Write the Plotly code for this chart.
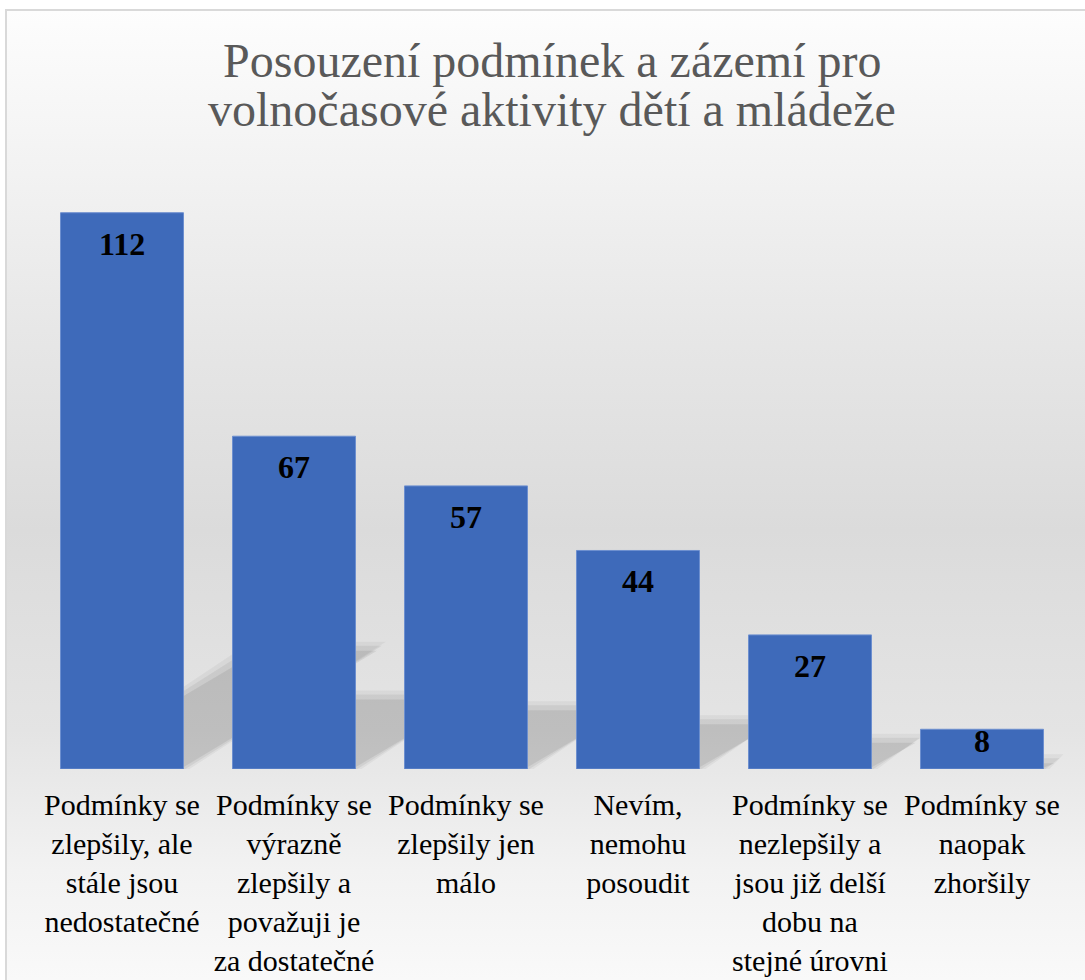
import base64
import plotly.graph_objects as go

categories = [
    "Podmínky se<br>zlepšily, ale<br>stále jsou<br>nedostatečné",
    "Podmínky se<br>výrazně<br>zlepšily a<br>považuji je<br>za dostatečné",
    "Podmínky se<br>zlepšily jen<br>málo",
    "Nevím,<br>nemohu<br>posoudit",
    "Podmínky se<br>nezlepšily a<br>jsou již delší<br>dobu na<br>stejné úrovni",
    "Podmínky se<br>naopak<br>zhoršily",
]
values = [112, 67, 57, 44, 27, 8]
title_lines = ["Posouzení podmínek a zázemí pro", "volnočasové aktivity dětí a mládeže"]

W, H = 1085, 980
ML, MR, MT, MB = 36, 17, 173, 211
YMAX = 120
BARGAP = 0.285
FONT = "Liberation Serif, Times New Roman, serif"

# background gradient + chart border as an SVG image
svg = f'''<svg xmlns="http://www.w3.org/2000/svg" width="{W}" height="{H}" viewBox="0 0 {W} {H}" preserveAspectRatio="none">
<defs><linearGradient id="g" x1="0" y1="0" x2="0" y2="1">
<stop offset="0" stop-color="#fdfdfd"/>
<stop offset="0.15" stop-color="#f3f3f3"/>
<stop offset="0.32" stop-color="#e7e7e7"/>
<stop offset="0.52" stop-color="#dbdbdb"/>
<stop offset="0.72" stop-color="#e4e4e4"/>
<stop offset="0.86" stop-color="#f2f2f2"/>
<stop offset="1" stop-color="#fbfbfb"/>
</linearGradient></defs>
<rect x="0" y="0" width="{W}" height="{H}" fill="#ffffff"/>
<rect x="6" y="10" width="{W + 20}" height="{H + 20}" fill="url(#g)" stroke="#d9d9d9" stroke-width="2"/>
</svg>'''
src = "data:image/svg+xml;base64," + base64.b64encode(svg.encode("utf-8")).decode("ascii")

pw = W - ML - MR
ph = H - MT - MB
ppx = pw / len(values)      # pixels per category unit
ppy = ph / YMAX             # pixels per value unit
half = (1 - BARGAP) / 2

fig = go.Figure()
fig.add_trace(go.Bar(
    x=list(range(len(values))),
    y=values,
    marker=dict(color="#3e6aba", line=dict(color="#6d8fcf", width=1)),
    hoverinfo="skip",
))

# soft perspective shadows behind the bars (derived from bar values)
shapes = []
SH_RATIO = 0.218
SKEW = 1.62
for i, v in enumerate(values):
    h = v * SH_RATIO                     # shadow height in value units
    dx = SKEW * h * ppy / ppx            # horizontal shear in category units
    for e, a in [(6, 0.045), (2, 0.06), (-3, 0.07)]:
        ex = e / ppx
        ey = e / ppy
        x0 = i - half
        x1 = i + half + ex
        top = h + ey
        path = (f"M {x0},0 L {x1},0 L {x1 + dx},{top} "
                f"L {x0 + dx - ex},{top} Z")
        shapes.append(dict(
            type="path", path=path, xref="x", yref="y", layer="below",
            fillcolor=f"rgba(0,0,0,{a})", line=dict(width=0),
        ))

annotations = []
label_h = 26
gap = 19
for i, v in enumerate(values):
    bar_px = v * ppy
    shift = -min(gap, max(bar_px - label_h - 14, 0))
    annotations.append(dict(
        x=i, y=v, xref="x", yref="y", text=f"<b>{v}</b>", showarrow=False,
        yanchor="top", yshift=shift + 8,
        font=dict(family=FONT, size=32, color="#000000"),
    ))
for j, line in enumerate(title_lines):
    annotations.append(dict(
        x=0.5, xref="paper", yref="paper", y=1 + (MT - 60 - 50 * j) / ph,
        text=line, showarrow=False, yanchor="middle", xanchor="center",
        xshift=(W / 2 - (ML + pw / 2)) + 9,
        font=dict(family=FONT, size=48, color="#595959"),
    ))

fig.update_layout(
    width=W, height=H,
    margin=dict(l=ML, r=MR, t=MT, b=MB, pad=0),
    paper_bgcolor="#ffffff",
    plot_bgcolor="rgba(0,0,0,0)",
    bargap=BARGAP,
    showlegend=False,
    font=dict(family=FONT),
    annotations=annotations,
    shapes=shapes,
    images=[dict(
        source=src, xref="paper", yref="paper",
        x=-ML / pw, y=1 + MT / ph, sizex=W / pw, sizey=H / ph,
        xanchor="left", yanchor="top", sizing="stretch", layer="below",
    )],
    xaxis=dict(
        tickmode="array", tickvals=list(range(len(values))), ticktext=categories,
        showgrid=False, zeroline=False, showline=False, ticks="",
        tickfont=dict(family=FONT, size=30, color="#000000"),
        ticklabelstandoff=15, automargin=False,
        range=[-0.5, len(values) - 0.5], fixedrange=True,
    ),
    yaxis=dict(visible=False, range=[0, YMAX], fixedrange=True, automargin=False),
)

fig.write_html(
    "out.html",
    config={"displayModeBar": False},
    post_script="document.body.style.margin='0px';document.body.style.overflow='hidden';",
)
